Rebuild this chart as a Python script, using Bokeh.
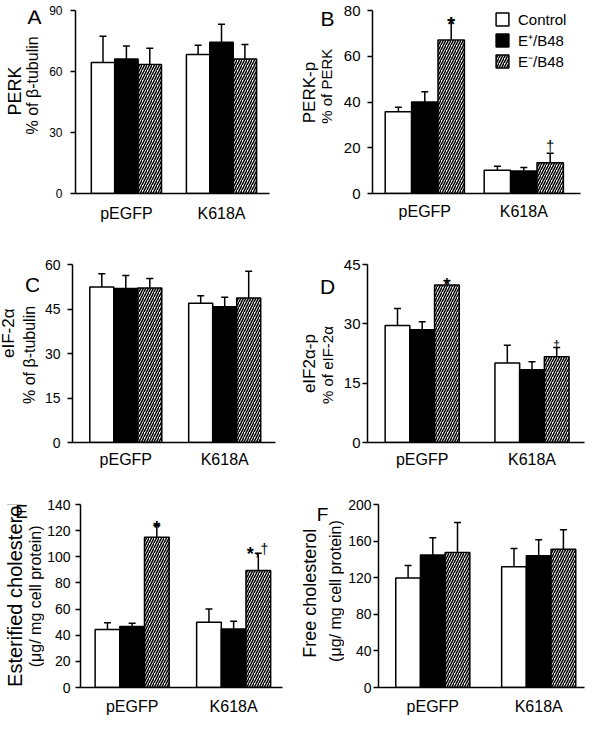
import numpy as np
from bokeh.plotting import figure
from bokeh.models import Range1d, FixedTicker, Whisker, TeeHead, ColumnDataSource, Legend, LegendItem
from bokeh.layouts import column, row
from bokeh.embed import file_html
from bokeh.resources import INLINE
from bokeh.core.properties import value

FONT = "Liberation Sans"

groups = ["pEGFP", "K618A"]
series = ["Control", "E\u207a/B48", "E\u207b/B48"]

# rows = series (Control, E+/B48, E-/B48), columns = groups (pEGFP, K618A)
perk_mean = [[64.4, 68.4], [66.2, 74.4], [63.5, 66.2]]
perk_sem = [[12.9, 4.5], [6.3, 8.8], [7.9, 7.1]]
perk_ticks = [0, 30, 60, 90]

perkp_mean = [[35.7, 10.2], [40.0, 9.8], [67.1, 13.4]]
perkp_sem = [[2.0, 1.7], [4.5, 1.6], [8.7, 4.2]]
perkp_ticks = [0, 20, 40, 60, 80]
perkp_marks = ["*", "\u2020"]

eif_mean = [[52.4, 46.9], [51.9, 45.8], [52.1, 48.7]]
eif_sem = [[4.5, 2.6], [4.4, 3.2], [3.2, 9.0]]
eif_ticks = [0, 15, 30, 45, 60]

eifp_mean = [[29.6, 20.1], [28.5, 18.4], [39.8, 21.7]]
eifp_sem = [[4.3, 4.5], [2.0, 2.0], [1.1, 2.3]]
eifp_ticks = [0, 15, 30, 45]
eifp_marks = ["*", "\u2020"]

ester_mean = [[44.3, 49.9], [46.6, 44.8], [115.0, 89.6]]
ester_sem = [[5.3, 10.2], [2.5, 5.8], [9.2, 13.2]]
ester_ticks = [0, 20, 40, 60, 80, 100, 120, 140]
ester_marks = ["*", "*,\u2020"]

free_mean = [[119.6, 132.1], [144.7, 144.0], [147.6, 151.1]]
free_sem = [[13.6, 19.8], [19.0, 17.6], [32.7, 21.3]]
free_ticks = [0, 40, 80, 120, 160, 200]

titles = ["PERK", "PERK-p", "eIF-2\u03b1", "eIF2\u03b1-p", "Esterified cholesterol", "Free cholesterol"]
subtitles = ["% of \u03b2-tubulin", "% of PERK", "% of \u03b2-tubulin", "% of eIF-2\u03b1",
             "(\u03bcg/ mg cell protein)", "(\u03bcg/ mg cell protein)"]
letters = ["A", "B", "C", "D", "E", "F"]

fills = ["white", "black", "white"]
hatches = [None, None, "/"]


def label_fig(x0, y0, w, h, items):
    f = figure(width=w, height=h, output_backend="svg", toolbar_location=None, title=None,
               x_range=Range1d(x0, x0 + w), y_range=Range1d(-(y0 + h), -y0),
               min_border_left=0, min_border_right=0, min_border_top=0, min_border_bottom=0,
               x_axis_type=None, y_axis_type=None)
    f.outline_line_color = None
    f.background_fill_color = "white"
    f.border_fill_color = "white"
    for x, y, t, fs, ang in items:
        f.text(x=[x], y=[-y], text=[t], angle=ang, text_align="center", text_baseline="middle",
               text_font=value(FONT), text_font_size=fs, text_color="black")
    return f


def make_panel(cfg, means, sems, ticks, marks=None, legend=False):
    W, H, L, T, FW, FH = cfg["w"], cfg["h"], cfg["l"], cfg["t"], cfg["fw"], cfg["fh"]
    px = cfg["px"]
    fl = px + L
    c0, c1 = cfg["c0"], cfg["c1"]
    unit = c1 - c0
    xs0 = (fl - c0) / unit
    xe0 = (fl + FW - c0) / unit
    bw = cfg["bw"] / unit
    p = figure(width=W, height=H, output_backend="svg", toolbar_location=None, title=None,
               min_border_left=L, min_border_right=W - L - FW, min_border_top=T,
               min_border_bottom=H - T - FH,
               x_range=Range1d(xs0, xe0), y_range=Range1d(0, ticks[-1]))
    p.outline_line_color = None
    p.xgrid.visible = False
    p.ygrid.visible = False
    p.background_fill_color = "white"
    p.border_fill_color = "white"

    xa = p.xaxis[0]
    xa.ticker = FixedTicker(ticks=list(range(len(groups))))
    xa.major_label_overrides = {i: g for i, g in enumerate(groups)}
    xa.major_tick_line_color = None
    xa.major_tick_out = 0
    xa.major_tick_in = 0
    xa.minor_tick_line_color = None
    xa.minor_tick_out = 0
    xa.axis_line_width = 1.5
    xa.major_label_text_font = FONT
    xa.major_label_text_font_size = "16px"
    xa.major_label_text_color = "black"
    xa.major_label_standoff = cfg["cat_so"]

    ya = p.yaxis[0]
    ya.ticker = FixedTicker(ticks=ticks)
    ya.minor_tick_line_color = None
    ya.minor_tick_out = 0
    ya.major_tick_in = 0
    ya.major_tick_out = 5
    ya.major_tick_line_width = 1.5
    ya.axis_line_width = 1.5
    ya.major_label_text_font = FONT
    ya.major_label_text_font_size = cfg["tick_fs"]
    ya.major_label_text_color = "black"
    ya.major_label_standoff = cfg["tick_so"]

    offs = [-1, 0, 1]
    renderers = []
    for si in range(len(series)):
        xs = [gi + offs[si] * bw for gi in range(len(groups))]
        kw = dict(fill_color=fills[si], line_color="black", line_width=1.5)
        if hatches[si]:
            kw.update(hatch_pattern=hatches[si], hatch_color="black", hatch_scale=5, hatch_weight=1.5)
        r = p.vbar(x=xs, top=means[si], width=bw, **kw)
        renderers.append(r)
        src = ColumnDataSource(dict(x=xs, lower=means[si],
                                    upper=[m + e for m, e in zip(means[si], sems[si])]))
        wk = Whisker(source=src, base="x", lower="lower", upper="upper",
                     upper_head=TeeHead(size=7, line_width=1.5, line_color="black"),
                     lower_head=None, line_width=1.5, line_color="black")
        p.add_layout(wk)

    if marks:
        si = 2
        sfs, syo = cfg["star"]
        dfs, dyo = cfg["dag"]
        for gi, m in enumerate(marks):
            x = gi + offs[si] * bw
            y = means[si][gi] + sems[si][gi]
            if m == "*":
                parts = [("*", 0, syo, sfs, "bold")]
            elif m == "\u2020":
                parts = [("\u2020", 0, dyo, dfs, "normal")]
            else:
                parts = [("*", -8, syo - 2, sfs, "bold"), (",", -1, -3, "14px", "bold"),
                         ("\u2020", 6, dyo, dfs, "normal")]
            for t, xo, yo, fs, fst in parts:
                p.text(x=[x], y=[y], text=[t], x_offset=xo, y_offset=yo,
                       text_align="center", text_baseline="alphabetic",
                       text_font=value(FONT), text_font_size=fs, text_font_style=fst,
                       text_color="black")

    if legend:
        lg = Legend(items=[LegendItem(label=s, renderers=[r]) for s, r in zip(series, renderers)],
                    location=cfg["leg"],
                    border_line_color=None, background_fill_alpha=0, padding=0, margin=0,
                    spacing=1, glyph_width=16, glyph_height=16, label_standoff=8,
                    label_height=20, label_text_font=FONT, label_text_font_size="15px",
                    label_text_color="black")
        p.add_layout(lg)
    return p


V = np.pi / 2
# row geometry (page pixels): row1 8-240, row2 240-486, row3 486-725
labA = label_fig(8, 8, 42, 232, [(42, 16, letters[0], "21px", 0), (22, 110, titles[0], "18px", V),
                                 (40, 103, subtitles[0], "16px", V)])
labB = label_fig(300, 8, 44, 232, [(335, 18, letters[1], "21px", 0), (317, 112, titles[1], "17px", V),
                                   (334, 104, subtitles[1], "15px", V)])
labC = label_fig(8, 240, 39, 246, [(40, 268, letters[2], "21px", 0), (16, 335, titles[2], "17px", V),
                                   (37, 365, subtitles[2], "16px", V)])
labD = label_fig(300, 240, 45, 246, [(335, 271, letters[3], "21px", 0), (317, 377, titles[3], "17px", V),
                                     (335, 379, subtitles[3], "15px", V)])
labE = label_fig(8, 486, 44, 239, [(29, 495, letters[4], "19px", 0), (22, 603, titles[4], "20px", V),
                                   (43, 606, subtitles[4], "16px", V)])
labF = label_fig(300, 486, 52, 239, [(330, 499, letters[5], "19px", 0), (317, 602, titles[5], "18px", V),
                                     (343, 599, subtitles[5], "16px", V)])

cfgA = dict(px=50, w=250, h=232, l=33, t=6, fw=194, fh=187, c0=133.9, c1=229.0, bw=23.4,
            tick_fs="12px", tick_so=8, cat_so=11)
cfgB = dict(px=344, w=250, h=232, l=36, t=10, fw=208, fh=185, c0=432.3, c1=531.3, bw=26.4,
            tick_fs="15px", tick_so=7, cat_so=9, star=("20px", 4), dag=("15px", -8),
            leg=(122, 122))
cfgC = dict(px=47, w=253, h=246, l=33, t=28, fw=203, fh=182, c0=133.3, c1=232.2, bw=24.0,
            tick_fs="14px", tick_so=7, cat_so=8)
cfgD = dict(px=345, w=249, h=246, l=30, t=32, fw=217, fh=178, c0=429.7, c1=539.5, bw=24.7,
            tick_fs="15px", tick_so=2, cat_so=8, star=("16px", 4), dag=("12px", -3))
cfgE = dict(px=52, w=248, h=239, l=35, t=26, fw=203, fh=183, c0=138.9, c1=240.9, bw=24.8,
            tick_fs="14px", tick_so=5, cat_so=10, star=("18px", 3), dag=("14px", -4))
cfgF = dict(px=352, w=242, h=239, l=34, t=26, fw=206, fh=184, c0=440.3, c1=546.2, bw=24.7,
            tick_fs="14px", tick_so=2, cat_so=10)

pA = make_panel(cfgA, perk_mean, perk_sem, perk_ticks)
pB = make_panel(cfgB, perkp_mean, perkp_sem, perkp_ticks, marks=perkp_marks, legend=True)
pC = make_panel(cfgC, eif_mean, eif_sem, eif_ticks)
pD = make_panel(cfgD, eifp_mean, eifp_sem, eifp_ticks, marks=eifp_marks)
pE = make_panel(cfgE, ester_mean, ester_sem, ester_ticks, marks=ester_marks)
pF = make_panel(cfgF, free_mean, free_sem, free_ticks)

layout = column(row(labA, pA, labB, pB), row(labC, pC, labD, pD), row(labE, pE, labF, pF))
open("out.html", "w").write(file_html(layout, INLINE))
